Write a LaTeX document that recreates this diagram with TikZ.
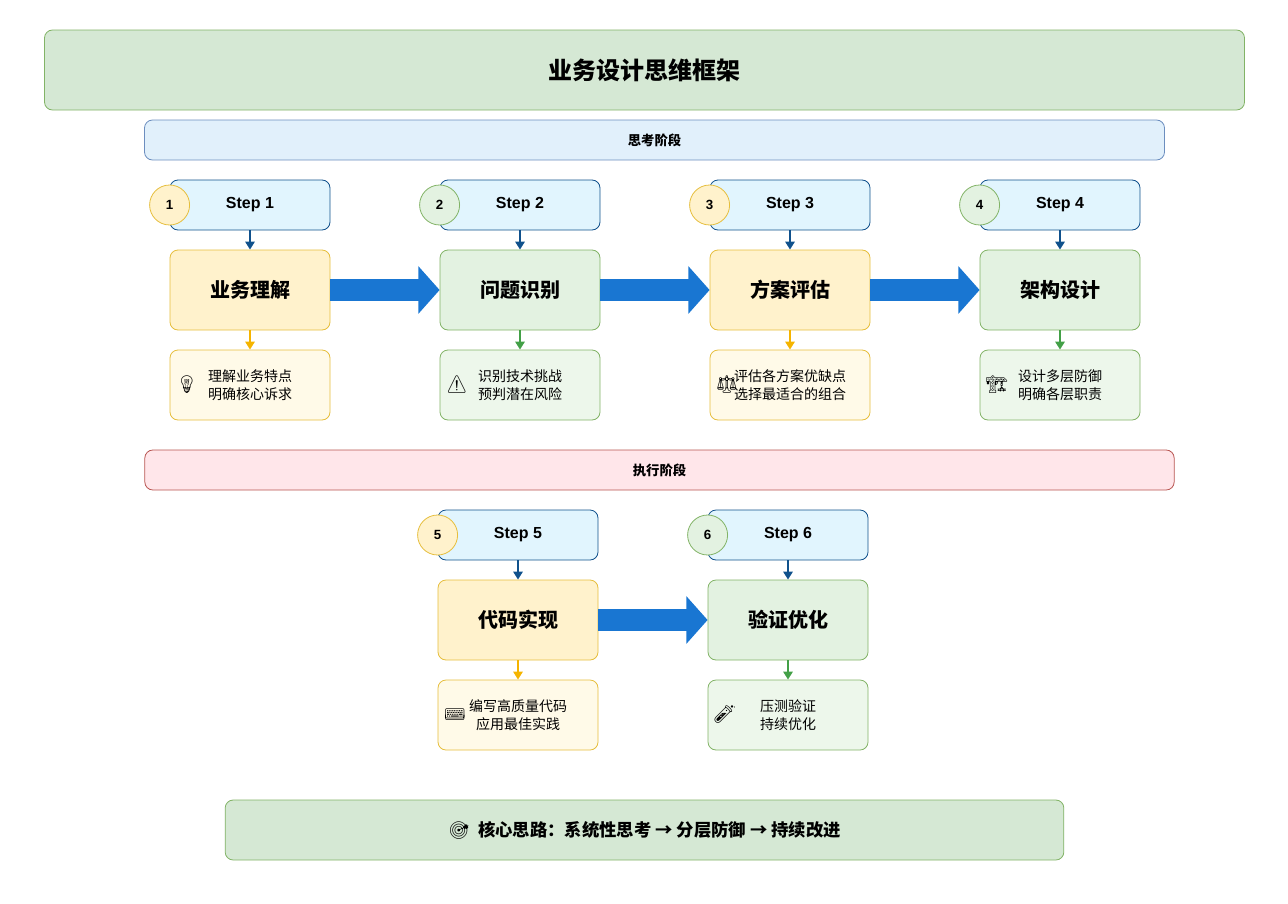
\documentclass[tikz,border=0pt]{standalone}
\usepackage{fontspec}
\setmainfont{Noto Sans CJK SC}
\newfontfamily\stepfont{Liberation Sans}
\newfontfamily\emojifont{Noto Emoji}
\usetikzlibrary{arrows.meta,positioning}
\definecolor{titlefill}{HTML}{D5E8D4}
\definecolor{titledraw}{HTML}{82B366}
\definecolor{phaseone}{HTML}{E1F0FB}
\definecolor{phaseonedraw}{HTML}{6C8EBF}
\definecolor{phasetwo}{HTML}{FFE6EA}
\definecolor{phasetwodraw}{HTML}{B85450}
\definecolor{stepfill}{HTML}{E1F5FE}
\definecolor{stepdraw}{HTML}{10518C}
\definecolor{yelfill}{HTML}{FFF2CC}
\definecolor{yeldraw}{HTML}{E6BE3C}
\definecolor{yellight}{HTML}{FFFAE8}
\definecolor{yelarrow}{HTML}{F5B400}
\definecolor{grnfill}{HTML}{E3F2E1}
\definecolor{grndraw}{HTML}{82B366}
\definecolor{grnlight}{HTML}{EDF7EB}
\definecolor{grnarrow}{HTML}{43A047}
\definecolor{bigblue}{HTML}{1976D2}
\tikzset{
  box/.style={rounded corners=6pt, line width=.6pt, inner sep=0pt},
  stepbox/.style={box, fill=stepfill, draw=stepdraw, minimum width=120pt, minimum height=37.5pt, font=\stepfont\bfseries\fontsize{12}{14}\selectfont},
  badge/.style={circle, minimum size=30pt, inner sep=0pt, line width=.6pt, font=\stepfont\bfseries\fontsize{10}{12}\selectfont},
  mainbox/.style={box, minimum width=120pt, minimum height=60pt, font=\bfseries\fontsize{15}{18}\selectfont},
  infobox/.style={box, minimum width=120pt, minimum height=52.5pt, align=center, font=\fontsize{10.5}{13.5}\selectfont},
  thin arrow/.style={line width=1.5pt, -{Triangle[length=6pt,width=7pt]}},
  big arrow/.style={bigblue, line width=16pt, -{Triangle[length=16pt,width=35pt]}}
}
\begin{document}
\begin{tikzpicture}[x=0.75pt,y=-0.75pt]
    \useasboundingbox (0,0) rectangle (1288,903);
    % Title and phases
    \node[box, fill=titlefill, draw=titledraw, minimum width=900pt, minimum height=60pt,
          font=\bfseries\fontsize{18}{22}\selectfont] (Title) at (644.5,70) {业务设计思维框架};
    \node[box, fill=phaseone, draw=phaseonedraw, minimum width=765pt, minimum height=30pt,
          font=\bfseries\fontsize{10}{12}\selectfont] (Phase-1) at (654.5,140) {思考阶段};
    \node[box, fill=phasetwo, draw=phasetwodraw, minimum width=772pt, minimum height=30pt,
          font=\bfseries\fontsize{10}{12}\selectfont] (Phase-2) at (659.5,470) {执行阶段};
    % Steps
    \foreach \i/\x/\y/\tone/\title/\icon/\lineA/\lineB in {
        1/250/205/yel/业务理解/💡/理解业务特点/明确核心诉求,
        2/520/205/grn/问题识别/⚠/识别技术挑战/预判潜在风险,
        3/790/205/yel/方案评估/⚖/评估各方案优缺点/选择最适合的组合,
        4/1060/205/grn/架构设计/🏗/设计多层防御/明确各层职责,
        5/518/535/yel/代码实现/⌨/编写高质量代码/应用最佳实践,
        6/788/535/grn/验证优化/🧪/压测验证/持续优化} {
        \node[stepbox] (Step-\i) at (\x,\y) {Step \i};
        \node[badge, fill=\tone fill, draw=\tone draw] (Badge-\i) at ([xshift=0pt]Step-\i.west) {\i};
        \node[mainbox, fill=\tone fill, draw=\tone draw] (Main-\i) at (\x,\y+85) {\title};
        \node[infobox, fill=\tone light, draw=\tone draw] (Info-\i) at (\x,\y+180) {\lineA\\\lineB};
        \node[font=\emojifont\fontsize{14}{14}\selectfont, text=\tone arrow!80!black] (Icon-\i) at ([xshift=-8pt]Info-\i.west) {};
        \node[font=\emojifont\fontsize{13}{13}\selectfont] at ([xshift=13pt]Info-\i.west) {\icon};
        \draw[thin arrow, stepdraw] (Step-\i) -- (Main-\i);
        \draw[thin arrow, \tone arrow] (Main-\i) -- (Info-\i);
    }
    % Flow arrows
    \foreach \i/\j in {1/2,2/3,3/4,5/6} {
        \draw[big arrow] (Main-\i.east) -- (Main-\j.west);
    }
    % Summary
    \node[box, fill=titlefill, draw=titledraw, minimum width=629pt, minimum height=45pt,
          font=\bfseries\fontsize{13}{16}\selectfont] (Summary) at (644.5,830)
          {{\emojifont 🎯}\ \ 核心思路：系统性思考 → 分层防御 → 持续改进};
\end{tikzpicture}
\end{document}
